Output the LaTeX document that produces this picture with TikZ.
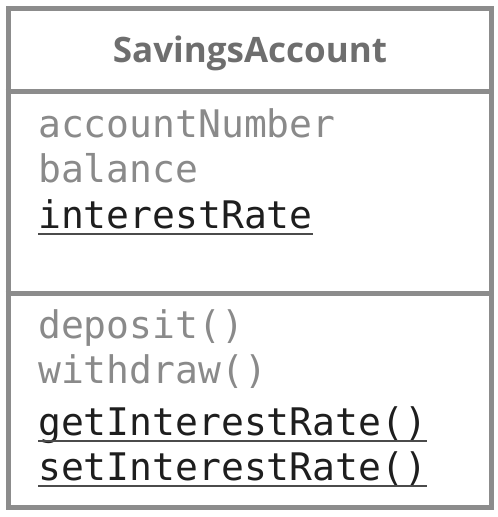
\documentclass[tikz,border=0pt]{standalone}
\usepackage{fontspec}
\setmainfont{Open Sans}
\setmonofont{DejaVu Sans Mono}
\usetikzlibrary{positioning}
\definecolor{framegray}{HTML}{8C8C8C}
\definecolor{textgray}{HTML}{8A8A8A}
\definecolor{titlegray}{HTML}{6E6E6E}
\definecolor{inkblack}{HTML}{1E1E1E}

\begin{document}
\begin{tikzpicture}[
    x=1pt, y=1pt,
    frame/.style={draw=framegray, line width=5pt, minimum width=483pt,
                  minimum height=499pt, inner sep=0pt},
    title/.style={font=\fontsize{35}{35}\selectfont\bfseries, text=titlegray,
                  anchor=base, inner sep=0pt},
    member/.style={anchor=base west, inner sep=0pt, text=textgray,
                   font=\fontsize{38}{38}\ttfamily},
    static/.style={member, text=inkblack},
    uline/.style={draw=inkblack!80, line width=1.6pt}
  ]
    \useasboundingbox (0,0) rectangle (498,-517);
    % Class frame
    \node[frame] (cls) at (249.5,-257.5) {};
    \draw[framegray, line width=5pt] (cls.west |- 0,-91) -- (cls.east |- 0,-91);
    \draw[framegray, line width=5pt] (cls.west |- 0,-293) -- (cls.east |- 0,-293);
    % Name
    \node[title] (name) at (250,-62) {SavingsAccount};
    % Attributes
    \node[member] (accno) at (38,-137) {accountNumber};
    \node[member] (bal) at (38,-182) {balance};
    \node[static] (irate) at (38,-228) {interestRate};
    \draw[uline] ([yshift=-6pt]irate.base west) -- ([yshift=-6pt]irate.base east);
    % Operations
    \node[member] (dep) at (38,-338) {deposit()};
    \node[member] (wdr) at (38,-383) {withdraw()};
    \node[static] (getr) at (38,-435) {getInterestRate()};
    \node[static] (setr) at (38,-480) {setInterestRate()};
    \draw[uline] ([yshift=-6pt]getr.base west) -- ([yshift=-6pt]getr.base east);
    \draw[uline] ([yshift=-6pt]setr.base west) -- ([yshift=-6pt]setr.base east);
  \end{tikzpicture}
\end{document}
